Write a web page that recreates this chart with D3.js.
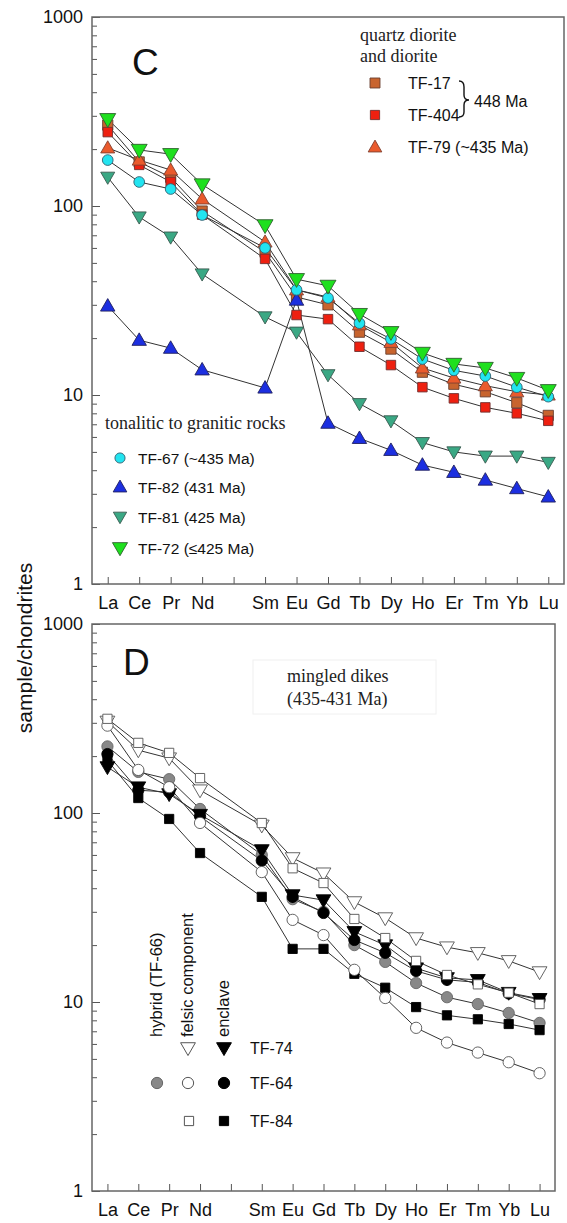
<!DOCTYPE html>
<html><head><meta charset="utf-8">
<script src="https://cdn.jsdelivr.net/npm/d3@7"></script>
<style>body{margin:0;background:#fff}svg{display:block}</style>
</head><body>
<svg id="c" width="567" height="1223"></svg>
<script>
// ---------- data ----------
const elements = ["La","Ce","Pr","Nd","Pm","Sm","Eu","Gd","Tb","Dy","Ho","Er","Tm","Yb","Lu"];
const majorTicks = [1,10,100,1000];
const majorLabels = ["1","10","100","1000"];

// panel C
const TF17  = [268,171,142,94,null,57,33,30,21.5,17.5,13.2,11.4,10.4,9.1,7.8];
const TF404 = [246,165,134,90,null,52.5,26.5,25.2,18,14.4,11,9.6,8.6,8.0,7.3];
const TF79  = [203,175,155,109,null,64.5,36,33,23.5,19,13.9,12.3,11.2,10.4,10.0];
const TF81  = [142,87.5,68.5,43.7,null,25.9,21.5,12.8,9.0,7.3,5.6,5.0,4.75,4.75,4.4];
const TF82  = [29.6,19.5,17.7,13.6,null,10.9,31.8,7.1,5.9,5.1,4.26,3.9,3.55,3.2,2.89];
const TF67  = [175,134,123,89.6,null,60,36,32.6,24,19.8,15.5,13.5,12.6,11,9.8];
const TF72  = [288,198,188,130,null,79,41,37.8,26.8,21.5,16.7,14.6,13.9,12.3,10.6];

// panel D
const TF66h = [225,165,151,105,null,60,35,30,20,16.3,12.6,10.6,9.75,8.75,7.75];
const TF74e = [175,137,126,98,null,63.7,36.8,34.6,23.5,20,15.1,13.4,13.1,11.2,10.4];
const TF64e = [205,132,129,96,null,56,36,29.6,21.3,18.2,14.6,13.1,12.7,11.1,10.3];
const TF84e = [190,120,93,61.4,null,36,19.1,19.1,14.1,11.9,9.4,8.5,8.1,7.65,7.1];
const TF74f = [305,215,195,132,null,86,57.8,48,33.8,27.8,21.8,19.5,18.2,16.5,14.4];
const TF64f = [290,169,137,88.6,null,48.7,27.2,22.6,14.8,10.5,7.3,6.1,5.4,4.8,4.2];
const TF84f = [315,235,208,153,null,88.5,51,42.6,27.5,21.8,16.5,13.9,12.4,11.2,9.75];

const seriesC = [
  {name:"TF-17", v:TF17, shape:"square", fill:"#c8642e", stroke:"#6a4030", size:105},
  {name:"TF-404",v:TF404,shape:"square", fill:"#ee2010", stroke:"#703030", size:90},
  {name:"TF-79", v:TF79, shape:"up",     fill:"#ea5a2c", stroke:"#804030", size:85},
  {name:"TF-81", v:TF81, shape:"down",   fill:"#3aa884", stroke:"#3a5a50", size:85},
  {name:"TF-82", v:TF82, shape:"up",     fill:"#1c2fe0", stroke:"#202060", size:90},
  {name:"TF-67", v:TF67, shape:"circle", fill:"#22e4f0", stroke:"#306070", size:90},
  {name:"TF-72", v:TF72, shape:"down",   fill:"#1ee01e", stroke:"#306030", size:110}
];
const seriesD = [
  {name:"TF-66 hybrid", v:TF66h, shape:"circle", fill:"#888", stroke:"#666", size:100},
  {name:"TF-74 enclave",v:TF74e, shape:"down",   fill:"#000", stroke:"#000", size:95},
  {name:"TF-64 enclave",v:TF64e, shape:"circle", fill:"#000", stroke:"#000", size:100},
  {name:"TF-84 enclave",v:TF84e, shape:"square", fill:"#000", stroke:"#000", size:85},
  {name:"TF-74 felsic", v:TF74f, shape:"down",   fill:"#fff", stroke:"#555", size:95},
  {name:"TF-64 felsic", v:TF64f, shape:"circle", fill:"#fff", stroke:"#555", size:100},
  {name:"TF-84 felsic", v:TF84f, shape:"square", fill:"#fff", stroke:"#555", size:85}
];

const svg = d3.select("#c");
const FONT = "Liberation Sans, Arial, sans-serif";
const SERIF = "Liberation Serif, Times New Roman, serif";

function symPath(shape,size){
  const t = shape==="square"?d3.symbolSquare:shape==="circle"?d3.symbolCircle:d3.symbolTriangle;
  return d3.symbol().type(t).size(size)();
}
function marker(g,shape,size,fill,stroke,x,y,sw){
  g.append("path").attr("d",symPath(shape,size))
    .attr("transform",`translate(${x},${y})`+(shape==="down"?" rotate(180)":"")+(shape==="up"||shape==="down"?" translate(0,1)":""))
    .attr("fill",fill).attr("stroke",stroke).attr("stroke-width",sw||0.8);
}

function panel(top,bottom,right,series,letter){
  const x = d3.scalePoint().domain(elements).range([92,right]).padding(0.5);
  const y = d3.scaleLog().domain([1,1000]).range([bottom,top]);
  const g = svg.append("g");
  // minor y ticks
  const minor = [];
  [1,10,100].forEach(d=>{for(let k=2;k<=9;k++)minor.push(d*k);});
  g.append("g").attr("transform","translate(92,0)")
    .call(d3.axisLeft(y).tickValues(minor).tickSize(-5).tickFormat(""))
    .call(a=>a.select(".domain").remove())
    .call(a=>a.selectAll("line").attr("stroke","#555"));
  g.append("g").attr("transform","translate(92,0)")
    .call(d3.axisLeft(y).tickValues(majorTicks).tickSize(-8).tickPadding(9)
      .tickFormat((d,i)=>majorLabels[i]))
    .call(a=>a.select(".domain").remove())
    .call(a=>a.selectAll("line").attr("stroke","#555"))
    .call(a=>a.selectAll("text").attr("font-family",FONT).attr("font-size",18).attr("fill","#111"));
  // x axis
  g.append("g").attr("transform",`translate(0,${bottom})`)
    .call(d3.axisBottom(x).tickSize(-7).tickPadding(12).tickFormat(d=>d==="Pm"?"":d))
    .call(a=>a.select(".domain").remove())
    .call(a=>a.selectAll("line").attr("stroke","#555"))
    .call(a=>a.selectAll("text").attr("font-family",FONT).attr("font-size",18).attr("fill","#111"));
  // frame
  g.append("rect").attr("x",92).attr("y",top).attr("width",right-92).attr("height",bottom-top)
    .attr("fill","none").attr("stroke","#666").attr("stroke-width",1.5);
  // letter
  g.append("text").attr("x",letter.x).attr("y",letter.y).text(letter.t)
    .attr("font-family",FONT).attr("font-size",37).attr("fill","#111");
  // lines
  const line = d3.line().x(d=>x(d.e)).y(d=>y(d.v));
  series.forEach(s=>{
    const pts = elements.map((e,i)=>({e,v:s.v[i]})).filter(d=>d.v!=null);
    g.append("path").attr("d",line(pts)).attr("fill","none").attr("stroke","#333").attr("stroke-width",1);
  });
  series.forEach(s=>{
    const pts = elements.map((e,i)=>({e,v:s.v[i]})).filter(d=>d.v!=null);
    pts.forEach(p=>marker(g,s.shape,s.size,s.fill,s.stroke,x(p.e),y(p.v),0.9));
  });
  return g;
}

const gC = panel(17,584,564,seriesC,{t:"C",x:132,y:75});
const gD = panel(624,1191,555,seriesD,{t:"D",x:123,y:675});

// y label
svg.append("text").attr("transform","translate(32,648) rotate(-90)").attr("text-anchor","middle")
  .attr("font-family",FONT).attr("font-size",21).attr("fill","#111").text("sample/chondrites");

// ---- legend C (top right)
const L1 = svg.append("g");
L1.append("text").attr("x",360).attr("y",41).text("quartz diorite").attr("font-family",SERIF).attr("font-size",18).attr("fill","#222");
L1.append("text").attr("x",360).attr("y",62).text("and diorite").attr("font-family",SERIF).attr("font-size",18).attr("fill","#222");
[[seriesC[0],83,"TF-17"],[seriesC[1],115,"TF-404"],[seriesC[2],147,"TF-79 (~435 Ma)"]].forEach(([s,yy,t])=>{
  marker(L1,s.shape,s.size*0.95,s.fill,s.stroke,375,yy,0.9);
  L1.append("text").attr("x",408).attr("y",yy).attr("dy","0.36em").text(t)
    .attr("font-family",FONT).attr("font-size",16).attr("fill","#111");
});
L1.append("path").attr("d","M459,81 Q464,81 464,87 L464,95 Q464,100 469,100 Q464,100 464,105 L464,112 Q464,117 459,117")
  .attr("fill","none").attr("stroke","#111").attr("stroke-width",1.4);
L1.append("text").attr("x",474).attr("y",101).attr("dy","0.36em").text("448 Ma")
  .attr("font-family",FONT).attr("font-size",16).attr("fill","#111");

// ---- legend C (bottom left)
const L2 = svg.append("g");
L2.append("text").attr("x",105).attr("y",429).text("tonalitic to granitic rocks").attr("font-family",SERIF).attr("font-size",18).attr("fill","#222");
[[seriesC[5],458,"TF-67 (~435 Ma)"],[seriesC[4],487,"TF-82 (431 Ma)"],[seriesC[3],517,"TF-81 (425 Ma)"],[seriesC[6],548,"TF-72 (\u2264425 Ma)"]].forEach(([s,yy,t])=>{
  marker(L2,s.shape,s.size*0.9,s.fill,s.stroke,120,yy,0.9);
  L2.append("text").attr("x",138).attr("y",yy).attr("dy","0.36em").text(t)
    .attr("font-family",FONT).attr("font-size",15.5).attr("fill","#111");
});

// ---- legend D
const L3 = svg.append("g");
L3.append("rect").attr("x",253).attr("y",660).attr("width",183).attr("height",54).attr("fill","none").attr("stroke","#f0f0f0");
L3.append("text").attr("x",287).attr("y",682).text("mingled dikes").attr("font-family",SERIF).attr("font-size",18).attr("fill","#222");
L3.append("text").attr("x",287).attr("y",705).text("(435-431 Ma)").attr("font-family",SERIF).attr("font-size",18).attr("fill","#222");
[["hybrid (TF-66)",162],["felsic component",193],["enclave",229]].forEach(([t,xx])=>{
  L3.append("text").attr("transform",`translate(${xx},1037) rotate(-90)`).text(t)
    .attr("font-family",FONT).attr("font-size",16.5).attr("fill","#111");
});
const rowsD = [
  {y:1048,label:"TF-74",cells:[[null],[seriesD[4],188],[seriesD[1],224]]},
  {y:1083,label:"TF-64",cells:[[seriesD[0],157],[seriesD[5],188],[seriesD[2],224]]},
  {y:1121,label:"TF-84",cells:[[null],[seriesD[6],189],[seriesD[3],224]]}
];
rowsD.forEach(r=>{
  r.cells.forEach(c=>{ if(c[0]) marker(L3,c[0].shape,c[0].size,c[0].fill,c[0].stroke,c[1],r.y,1); });
  L3.append("text").attr("x",250).attr("y",r.y).attr("dy","0.36em").text(r.label)
    .attr("font-family",FONT).attr("font-size",16).attr("fill","#111");
});
</script>
</body></html>
